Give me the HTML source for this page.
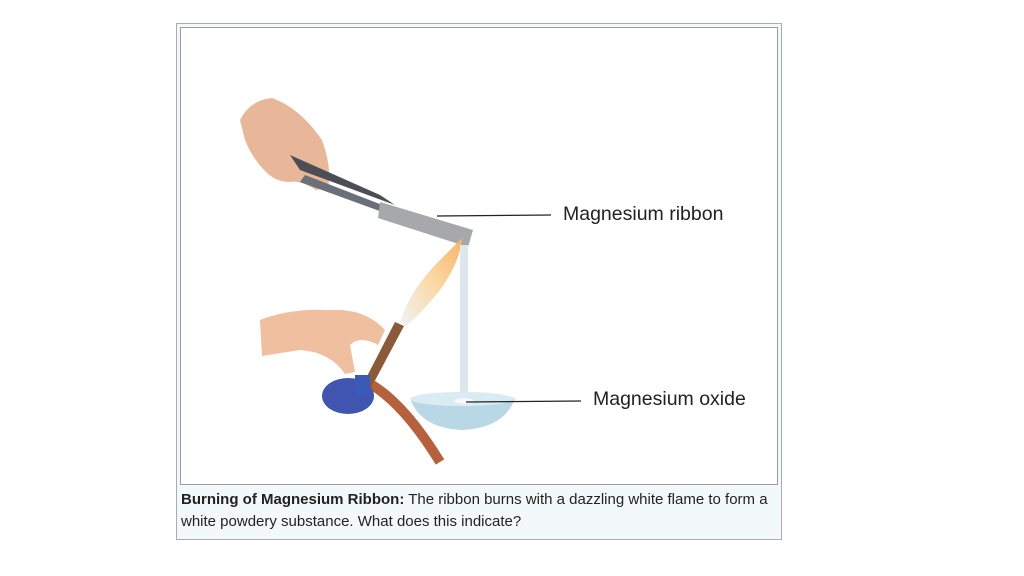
<!DOCTYPE html>
<html><head><style>
body{margin:0;width:1024px;height:576px;background:#fff;overflow:hidden;position:relative;font-family:"Liberation Sans",sans-serif}
.outer{position:absolute;left:176px;top:23px;width:604px;height:515px;border:1px solid #a9adb0;background:#f3f8fb}
.inner{position:absolute;left:3px;top:3px;width:596px;height:456px;border:1px solid #9a9ea2;background:#fff}
.cap{position:absolute;left:4px;top:465px;width:604px;font-size:15px;line-height:22px;color:#222;white-space:nowrap}
.lbl{position:absolute;font-size:19.5px;color:#222}
</style></head><body>
<div class="outer"><div class="inner"></div>
<div class="cap"><b>Burning of Magnesium Ribbon:</b> The ribbon burns with a dazzling white flame to form a<br>white powdery substance. What does this indicate?</div></div>
<svg style="position:absolute;left:0;top:0" width="1024" height="576">
<defs><linearGradient id="fl" x1="0" y1="1" x2="1" y2="0"><stop offset="0" stop-color="#eef4f6"/><stop offset=".5" stop-color="#fbd9a8"/><stop offset="1" stop-color="#f7b566"/></linearGradient></defs>
<path d="M240 120 Q250 100 272 98 Q300 108 322 140 Q332 168 328 188 L316 190 Q300 180 290 182 Q276 182 266 172 Q252 158 245 140 Z" fill="#e8b79a"/>
<path d="M290 155 L380 195 L395 205 L300 170 Z" fill="#4b4f55"/>
<path d="M305 175 L390 208 L385 213 L300 182 Z" fill="#6b7078"/>
<path d="M380 202 L473 230 L468 247 L378 218 Z" fill="#a6a8aa"/>
<path d="M400 322 Q410 290 440 260 Q455 245 462 238 Q460 262 440 290 Q420 315 406 326 Z" fill="url(#fl)"/>
<rect x="460" y="245" width="8" height="150" fill="#dde8ec"/>
<path d="M395 322 L404 326 L370 390 L362 386 Z" fill="#8a5a3a"/>
<path d="M372 385 Q405 405 440 462" stroke="#b5613e" stroke-width="10" fill="none"/>
<ellipse cx="348" cy="396" rx="26" ry="18" fill="#3f55b0"/>
<rect x="355" y="375" width="15" height="20" fill="#3b5ab8"/>
<path d="M260 320 Q290 308 330 310 Q365 308 385 330 L378 345 Q360 335 350 345 L355 372 L345 374 Q330 352 300 350 L262 356 Z" fill="#efbfa0"/>
<path d="M410 398 Q462 392 515 398 Q505 428 462 430 Q420 428 410 398 Z" fill="#b9d8e6"/>
<ellipse cx="462" cy="399" rx="52" ry="7" fill="#d9ebf3"/>
<ellipse cx="464" cy="401" rx="10" ry="3" fill="#f5f7f8"/>
<line x1="437" y1="216" x2="551" y2="215" stroke="#222" stroke-width="1.2"/>
<line x1="466" y1="402" x2="581" y2="401" stroke="#222" stroke-width="1.2"/>
</svg>
<div class="lbl" style="left:563px;top:203px">Magnesium ribbon</div>
<div class="lbl" style="left:593px;top:388px">Magnesium oxide</div>
</body></html>
